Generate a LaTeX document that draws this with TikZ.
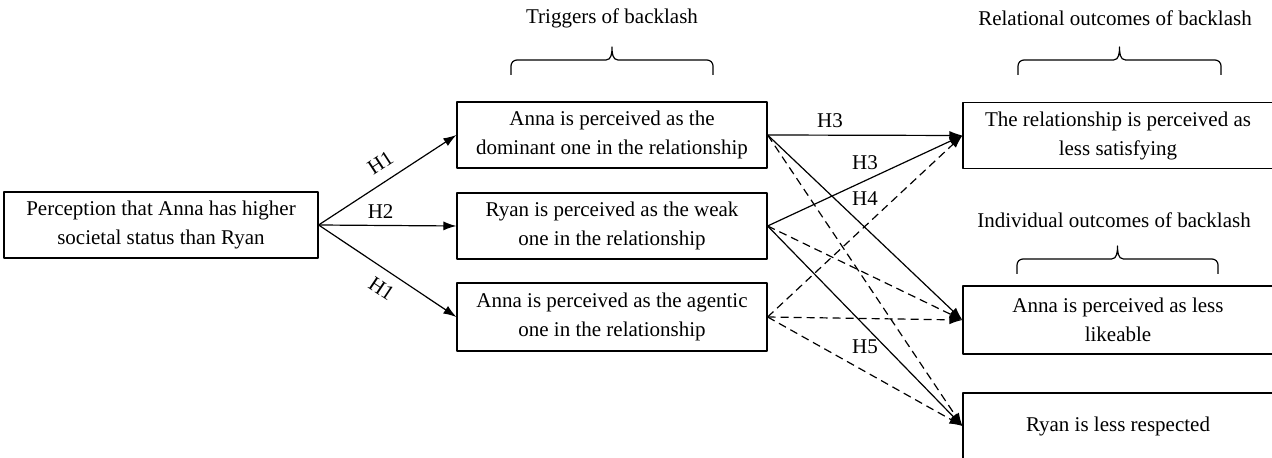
\documentclass[tikz,border=0pt]{standalone}
\usepackage{fontspec}
\setmainfont{Liberation Serif}
\usetikzlibrary{arrows.meta}

\begin{document}
\begin{tikzpicture}[x=0.5pt, y=-0.5pt, >={Latex[length=6.5pt,width=4.5pt]},
		font=\fontsize{10.5}{14.5}\selectfont, line join=round,
		box/.style={draw, line width=0.6pt, align=center, minimum width=155pt, minimum height=33pt, inner sep=2pt},
		arr/.style={->, line width=0.6pt},
		darr/.style={->, line width=0.6pt, dash pattern=on 4pt off 2.5pt}]
	\useasboundingbox (0,0) rectangle (1272,458);
	\clip (0,0) rectangle (1272,458);
	
	% headers
	\node (trig) at (612,18) {Triggers of backlash};
	\node (rel) at (1115,18) {Relational outcomes of backlash};
	\node (ind) at (1114,220) {Individual outcomes of backlash};
	\foreach \a/\b/\y in {511/713/75, 1018/1221/75, 1017/1218/274}{
		\pgfmathsetmacro\m{(\a+\b)/2}
		\draw[line width=0.6pt] (\a,\y) -- (\a,\y-9) to[out=90,in=180] (\a+6,\y-15) -- (\m-6,\y-15)
			to[out=0,in=-90] (\m,\y-28) to[out=-90,in=180] (\m+6,\y-15) -- (\b-6,\y-15)
			to[out=0,in=90] (\b,\y-9) -- (\b,\y);
	}
	
	% boxes
	\node[box, minimum width=157pt] (status) at (161,225) {Perception that Anna has higher\\societal status than Ryan};
	\node[box] (dominant) at (612,135) {Anna is perceived as the\\dominant one in the relationship};
	\node[box] (weak) at (612,226) {Ryan is perceived as the weak\\one in the relationship};
	\node[box, minimum height=34pt] (agentic) at (612,317) {Anna is perceived as the agentic\\one in the relationship};
	\node[box] (satisfy) at (1118,135.5) {The relationship is perceived as\\less satisfying};
	\node[box, minimum height=34pt] (likeable) at (1118,320) {Anna is perceived as less\\likeable};
	\node[box] (respect) at (1118,426) {Ryan is less respected};
	
	% H1, H2
	\draw[arr] (status.east) -- node[above=2pt, sloped, pos=0.52] {H1} (dominant.west);
	\draw[arr] (status.east) -- node[above, pos=0.45] {H2} (weak.west);
	\draw[arr] (status.east) -- node[below=2pt, sloped, pos=0.53] {H1} (agentic.west);
	
	% H3 - H5
	\draw[arr] (dominant.east) -- node[above, pos=0.32] {H3} (satisfy.west);
	\draw[arr] (weak.east) -- node[above=2pt] {H3} node[below=2pt] {H4} (satisfy.west);
	\draw[arr] (dominant.east) -- (likeable.west);
	\draw[arr] (weak.east) -- node[below=3pt] {H5} (respect.west);
	\draw[darr] (dominant.east) -- (respect.west);
	\draw[darr] (weak.east) -- (likeable.west);
	\draw[darr] (agentic.east) -- (satisfy.west);
	\draw[darr] (agentic.east) -- (likeable.west);
	\draw[darr] (agentic.east) -- (respect.west);
\end{tikzpicture}
\end{document}
